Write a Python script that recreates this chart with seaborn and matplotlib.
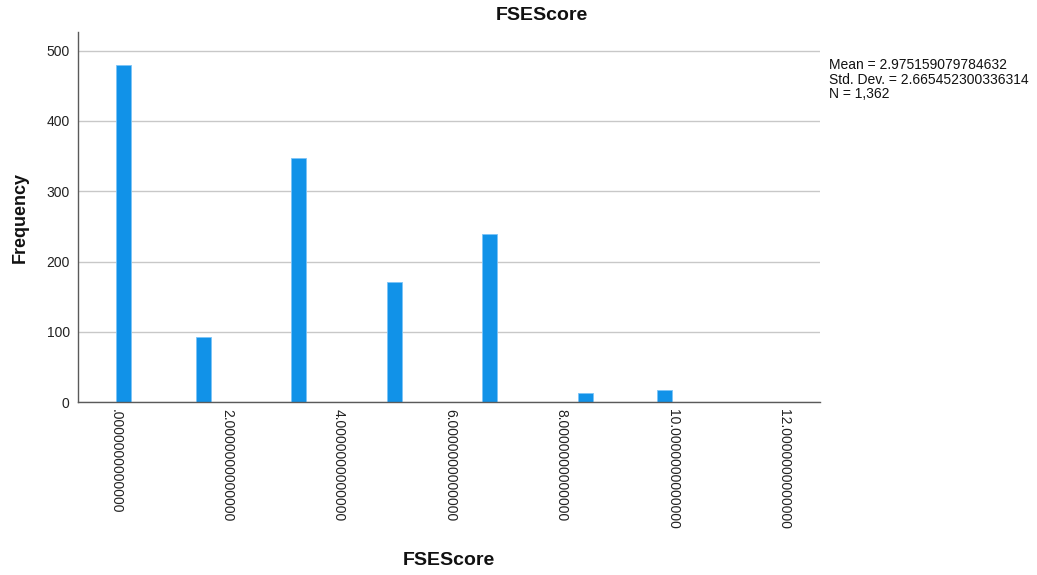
import numpy as np
import pandas as pd
import seaborn as sns
import matplotlib.pyplot as plt
from matplotlib.transforms import ScaledTranslation

# FSEScore values observed and how many respondents had each one
scores = [0.0, 1 / 3, 5 / 3, 10 / 3, 5.0, 20 / 3, 25 / 3, 10.0]
counts = [479, 1, 93, 348, 171, 239, 13, 18]

x_ticks = [0, 2, 4, 6, 8, 10, 12]
y_ticks = [0, 100, 200, 300, 400, 500]
stats_lines = [
    "Mean = 2.975159079784632",
    "Std. Dev. = 2.665452300336314",
    "N = 1,362",
]

df = pd.DataFrame({"FSEScore": scores, "count": counts})

sns.set_style("white")
plt.rcParams["font.family"] = ["Liberation Sans", "DejaVu Sans"]

fig = plt.figure(figsize=(10.37, 5.75), dpi=100)
ax = fig.add_axes([78 / 1037, 1 - 402.3 / 575, 742 / 1037, 370 / 575])

# 35 equal bins spanning the 0-10 score range
sns.histplot(
    data=df, x="FSEScore", weights="count", bins=35, binrange=(0, 10), shrink=0.94,
    color="#1192e8", edgecolor="#7cc4f7", linewidth=0.6, alpha=1, ax=ax,
)

ax.set_xlim(-0.683, 12.65)
ax.set_ylim(0, 526)
ax.set_xticks(x_ticks)
labels = []
for v in x_ticks:
    s = f"{v:.13f}"
    labels.append(s[1:] if s.startswith("0.") else s)
ax.set_xticklabels(labels, rotation=-90, ha="center", va="top", fontsize=10)
shift = ScaledTranslation(-4 / 100, 0, fig.dpi_scale_trans)
for lab in ax.get_xticklabels():
    lab.set_transform(lab.get_transform() + shift)
ax.set_yticks(y_ticks)
ax.set_yticklabels([str(v) for v in y_ticks], fontsize=10)
ax.tick_params(axis="both", length=0, colors="#222222")
ax.tick_params(axis="x", pad=5)
ax.tick_params(axis="y", pad=6)

ax.yaxis.grid(True, color="#c8c8c8", linewidth=1)
ax.xaxis.grid(False)
ax.set_axisbelow(True)
for side in ("top", "right"):
    ax.spines[side].set_visible(False)
for side in ("left", "bottom"):
    ax.spines[side].set_color("#5a5a5a")
    ax.spines[side].set_linewidth(1)

ax.set_xlabel("FSEScore", fontsize=14, fontweight="bold", color="#111111")
ax.xaxis.set_label_coords(0.5, -0.405)
ax.set_ylabel("Frequency", fontsize=13, fontweight="bold", color="#111111")
ax.yaxis.set_label_coords(-0.067, 0.5)

fig.text(542 / 1037, 1 - 16 / 575, "FSEScore", ha="center", va="center",
         fontsize=14, fontweight="bold", color="#111111")
fig.text(829 / 1037, 1 - 58 / 575, "\n".join(stats_lines), ha="left", va="top",
         fontsize=10, linespacing=1.05, color="#111111")

fig.savefig("out.png", dpi=100)
